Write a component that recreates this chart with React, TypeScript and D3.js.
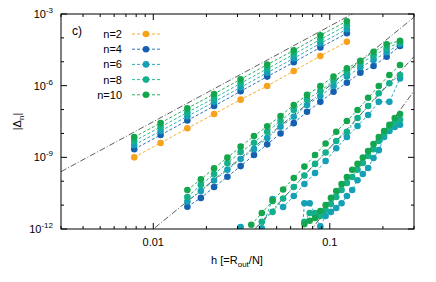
import React from 'react';
import * as d3 from 'd3';

// series (legend order)
const seriesNames = ['n=2', 'n=4', 'n=6', 'n=8', 'n=10'];
const seriesColors = ['#f7a21b', '#1561b0', '#15a0b6', '#14b08c', '#13a64c'];

// ---- group A (steepest ~ h^4 branch) ----
const hA = [0.0078, 0.011, 0.0156, 0.0221, 0.03125, 0.0442, 0.0625, 0.0884, 0.125];
const n2A = [1.0e-9, 4.0e-9, 1.64e-8, 6.5e-8, 2.6e-7, 9.7e-7, 4.1e-6, 1.75e-5, 6.9e-5];
const n4A = [2.2e-9, 8.6e-9, 3.5e-8, 1.4e-7, 5.8e-7, 2.4e-6, 9.5e-6, 4.0e-5, 1.56e-4];
const n6A = [3.3e-9, 1.27e-8, 5.2e-8, 2.1e-7, 8.5e-7, 3.5e-6, 1.4e-5, 5.9e-5, 2.3e-4];
const n8A = [4.8e-9, 1.86e-8, 7.6e-8, 3.0e-7, 1.25e-6, 5.1e-6, 2.05e-5, 8.6e-5, 3.4e-4];
const n10A = [7.0e-9, 2.75e-8, 1.13e-7, 4.5e-7, 1.86e-6, 7.6e-6, 3.0e-5, 1.28e-4, 5.0e-4];

// ---- group B (~ h^6) ----
const hB = [0.0156, 0.0186, 0.0221, 0.0263, 0.03125, 0.0372, 0.0442, 0.0526, 0.0625, 0.0743,
  0.0884, 0.105, 0.125, 0.149, 0.177, 0.21, 0.25];
const n4B = [8.6e-12, 2.0e-11, 5.7e-11, 1.55e-10, 4.3e-10, 1.25e-9, 3.5e-9, 1.0e-8, 2.7e-8, 8.1e-8,
  2.1e-7, 5.6e-7, 1.33e-6, 3.5e-6, 6.7e-6, 1.63e-5, 4.6e-5];
const n6B = [1.4e-11, 3.9e-11, 1.07e-10, 3.0e-10, 8.5e-10, 2.2e-9, 6.4e-9, 1.9e-8, 5.0e-8, 1.55e-7,
  3.7e-7, 9.7e-7, 2.4e-6, 5.9e-6, 1.19e-5, 2.5e-5, 5.5e-5];
const n8B = [2.2e-11, 7.0e-11, 2.0e-10, 5.6e-10, 1.67e-9, 4.1e-9, 1.18e-8, 3.3e-8, 9.6e-8, 2.7e-7,
  6.0e-7, 1.57e-6, 3.6e-6, 8.6e-6, 1.8e-5, 3.7e-5, 6.5e-5];
const n10B = [4.3e-11, 1.2e-10, 3.5e-10, 9.7e-10, 2.8e-9, 7.8e-9, 2.0e-8, 5.4e-8, 1.55e-7, 4.1e-7,
  9.7e-7, 2.4e-6, 5.3e-6, 1.1e-5, 2.6e-5, 5.4e-5, 7.6e-5];

// ---- group C (~ h^8) ----
const hC = [0.03125, 0.0359, 0.0412, 0.0474, 0.0544, 0.0625, 0.0718, 0.0825, 0.0947, 0.1088,
  0.125, 0.1436, 0.1649, 0.1895, 0.2176, 0.25];
const n6C = [1.2e-12, 5e-13, 1.07e-12, 1.8e-11, 8.3e-12, 2.4e-11, 7.7e-11, 2.2e-10, 7.0e-10, 2.4e-9,
  7.1e-9, 2.05e-8, 5.9e-8, 2.1e-7, 2.1e-7, 2.0e-6];
const n8C = [null, 6e-13, 2.0e-12, 5.2e-12, 1.9e-11, 5.7e-11, 1.74e-10, 5.3e-10, 1.6e-9, 4.8e-9,
  1.18e-8, 4.4e-8, 1.4e-7, 4.8e-7, 1.26e-6, 2.8e-6];
const n10C = [null, 1.5e-12, 4.7e-12, 1.5e-11, 4.5e-11, 1.36e-10, 4.1e-10, 1.25e-9, 3.8e-9, 1.18e-8,
  3.3e-8, 9.6e-8, 3.1e-7, 9.7e-7, 2.8e-6, 7.3e-6];

// ---- group D (~ h^10) ----
const hD = [0.067, 0.0718, 0.0769, 0.0825, 0.0884, 0.0947, 0.1015, 0.1088, 0.1166, 0.125,
  0.134, 0.1436, 0.1539, 0.1649, 0.1768, 0.1895, 0.2031, 0.2176, 0.2333, 0.25];
const n6D = [1e-14, 1.2e-11, 1.2e-11, 4.2e-12, 1.3e-12, 3.5e-12, 5.2e-12, 7.6e-12, 1.2e-11, 2.4e-11,
  4.3e-11, 1.1e-10, 2.0e-10, 3.6e-10, 9.4e-10, 2.0e-9, 7.1e-9, 1.26e-8, 1.86e-8, 2.3e-8];
const n8D = [null, 2.0e-12, 4.7e-12, 4.7e-12, 3.5e-12, 6.2e-12, 1.1e-11, 2.2e-11, 4.3e-11, 8.4e-11,
  1.5e-10, 3.0e-10, 5.8e-10, 1.14e-9, 2.2e-9, 4.8e-9, 9.5e-9, 1.7e-8, 2.7e-8, 3.7e-8];
const n10D = [null, 1.6e-12, 2.2e-12, 2.9e-12, 5.7e-12, 1.0e-11, 2.0e-11, 3.9e-11, 7.7e-11, 1.5e-10,
  3.0e-10, 5.3e-10, 9.8e-10, 1.84e-9, 3.6e-9, 7.1e-9, 1.26e-8, 2.3e-8, 4.4e-8, 6.5e-8];

// reference slopes (dash-dot): coefficient * h^order
const guideCoef = [3.1, 1, 0.25, 0.1];
const guideOrder = [4, 6, 8, 10];

const yTickExps = [-3, -6, -9, -12];
const xTickLabels = [0.01, 0.1];

const runs = [
  { s: 0, h: hA, v: n2A }, { s: 1, h: hA, v: n4A }, { s: 2, h: hA, v: n6A }, { s: 3, h: hA, v: n8A }, { s: 4, h: hA, v: n10A },
  { s: 1, h: hB, v: n4B }, { s: 2, h: hB, v: n6B }, { s: 3, h: hB, v: n8B }, { s: 4, h: hB, v: n10B },
  { s: 2, h: hC, v: n6C }, { s: 3, h: hC, v: n8C }, { s: 4, h: hC, v: n10C },
  { s: 2, h: hD, v: n6D }, { s: 3, h: hD, v: n8D }, { s: 4, h: hD, v: n10D },
];

const W = 436, H = 282;
const L = 61, R = 414, T = 14, B = 229;
const font = '"Liberation Sans", Arial, sans-serif';

export default function App() {
  const x = d3.scaleLog().domain([0.003, 0.3]).range([L, R]);
  const y = d3.scaleLog().domain([1e-12, 1e-3]).range([B, T]);

  const line = d3.line<[number, number]>()
    .x(d => x(d[0]))
    .y(d => y(d[1]));

  const xMinor = x.ticks().filter(t => !xTickLabels.some(m => Math.abs(m - t) / m < 1e-6));
  const yDecades = d3.range(-12, -2);

  const guides = guideCoef.map((c, i) => {
    const hs = [0.003, 0.3];
    return line(hs.map(h => [h, c * Math.pow(h, guideOrder[i])] as [number, number]));
  });

  return (
    <svg width={W} height={H} style={{ position: 'absolute', left: 0, top: 0 }} fontFamily={font}>
      <defs>
        <clipPath id="plot"><rect x={L} y={T} width={R - L} height={B - T} /></clipPath>
      </defs>
      <rect width={W} height={H} fill="#fff" />

      {/* guide lines */}
      <g clipPath="url(#plot)">
        {guides.map((d, i) => (
          <path key={i} d={d || ''} fill="none" stroke="#333" strokeWidth={0.8} strokeDasharray="6,2,1,2" />
        ))}
      </g>

      {/* data */}
      <g clipPath="url(#plot)">
        {runs.map((r, i) => {
          const pts = r.h.map((h, j) => [h, r.v[j]]).filter(p => p[1] != null) as [number, number][];
          return (
            <g key={i}>
              <path d={line(pts) || ''} fill="none" stroke={seriesColors[r.s]} strokeWidth={0.9} strokeDasharray="3,2" />
              {pts.filter(p => p[1] >= 1e-12 * 0.95).map((p, j) => (
                <circle key={j} cx={x(p[0])} cy={y(p[1])} r={3.3} fill={seriesColors[r.s]} />
              ))}
            </g>
          );
        })}
      </g>

      {/* frame */}
      <rect x={L} y={T} width={R - L} height={B - T} fill="none" stroke="#000" strokeWidth={1} />

      {/* x ticks */}
      {xMinor.map((t, i) => (
        <g key={'xm' + i} stroke="#000">
          <line x1={x(t)} x2={x(t)} y1={B} y2={B - 3} />
          <line x1={x(t)} x2={x(t)} y1={T} y2={T + 3} />
        </g>
      ))}
      {xTickLabels.map((t, i) => (
        <g key={'xM' + i}>
          <line x1={x(t)} x2={x(t)} y1={B} y2={B - 6} stroke="#000" />
          <line x1={x(t)} x2={x(t)} y1={T} y2={T + 6} stroke="#000" />
          <text x={x(t)} y={B + 17} fontSize={11} textAnchor="middle">{String(t)}</text>
        </g>
      ))}

      {/* y ticks */}
      {yDecades.map(e => {
        const major = yTickExps.includes(e);
        const len = major ? 6 : 3;
        return (
          <g key={'y' + e} stroke="#000">
            <line x1={L} x2={L + len} y1={y(Math.pow(10, e))} y2={y(Math.pow(10, e))} />
            <line x1={R} x2={R - len} y1={y(Math.pow(10, e))} y2={y(Math.pow(10, e))} />
          </g>
        );
      })}
      {yTickExps.map(e => (
        <text key={'yl' + e} x={53} y={y(Math.pow(10, e)) + 4} fontSize={11} textAnchor="end">
          10<tspan dy={-5} fontSize={8}>{String(e)}</tspan>
        </text>
      ))}

      {/* axis titles */}
      <text transform={`translate(21,${(T + B) / 2}) rotate(-90)`} fontSize={11} textAnchor="middle">
        |Δ<tspan dy={3} fontSize={8}>n</tspan><tspan dy={-3}>|</tspan>
      </text>
      <text x={237} y={264} fontSize={11} textAnchor="middle">
        h [=R<tspan dy={3} fontSize={8}>out</tspan><tspan dy={-3}>/N]</tspan>
      </text>

      {/* panel label */}
      <text x={72} y={35} fontSize={12}>c)</text>

      {/* legend */}
      {seriesNames.map((n, i) => {
        const ly = 34 + i * 15.2;
        return (
          <g key={'lg' + i}>
            <text x={122} y={ly + 4} fontSize={11} textAnchor="end">{n}</text>
            <line x1={132} x2={160} y1={ly} y2={ly} stroke={seriesColors[i]} strokeWidth={0.9} strokeDasharray="3,2" />
            <circle cx={146} cy={ly} r={3.3} fill={seriesColors[i]} />
          </g>
        );
      })}
    </svg>
  );
}
